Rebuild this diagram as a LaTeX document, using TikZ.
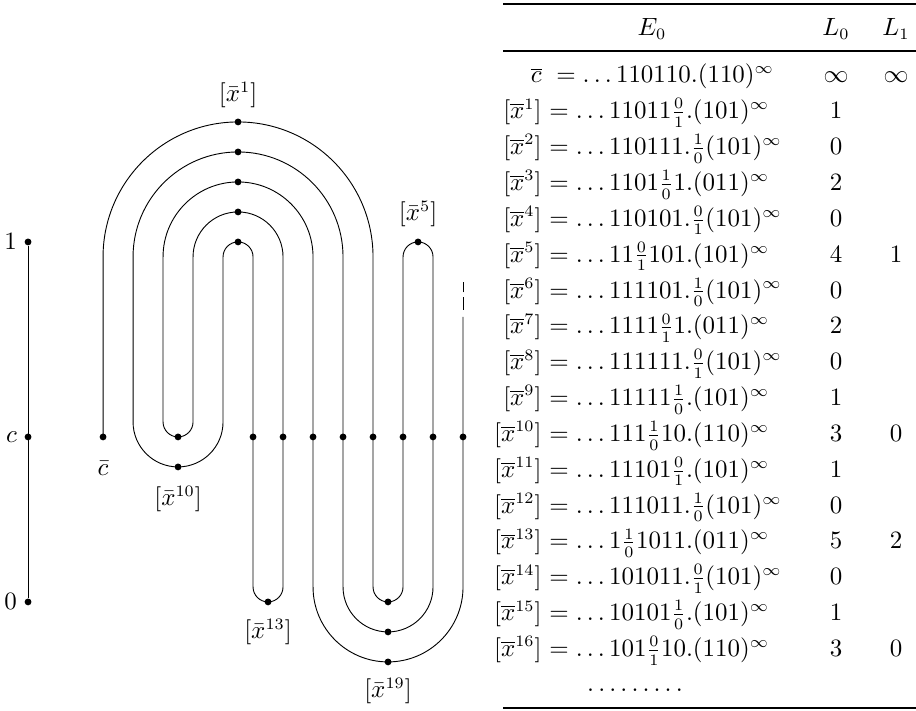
\documentclass[tikz,border=0pt]{standalone}
\usetikzlibrary{positioning}
\begin{document}
\begin{tikzpicture}
      [%%%%%%%%%%%%%%%%%%%%%%%%%%%%%%
          dot/.style={circle,fill=black,inner sep=0pt,minimum size=3pt},
          lab/.style={inner sep=0pt},
          every node/.style={font=\fontsize{10.7}{13}\selectfont},
          x=6.58pt,y=6.58pt
      ]%%%%%%%%%%%%%%%%%%%%%%%%%%%%%%

  \useasboundingbox (-1.87,-18.27) rectangle (59.2,29.13);

  % the interval [0,1]
  \node[dot] (one) at (0,13){};
  \node[dot] (cc) at (0,0){};
  \node[dot] (zero) at (0,-11){};
  \draw (one) -- (zero);
  \node[lab,left=3pt of one] (lone) {$1$};
  \node[lab,left=3pt of cc] (lc) {$c$};
  \node[lab,left=3pt of zero] (lzero) {$0$};

  % the folded curve
  \draw (5,0) -- (5,12) arc (180:0:9) -- (23,-10) arc (180:360:1)
        -- (25,12) arc (180:0:1) -- (27,-10) arc (0:-180:3)
        -- (21,12) arc (0:180:7) -- (7,1) arc (180:360:3)
        -- (13,12) arc (180:0:1) -- (15,-10) arc (180:360:1)
        -- (17,12) arc (0:180:3) -- (11,1) arc (0:-180:1)
        -- (9,12) arc (180:0:5) -- (19,-10) arc (180:360:5)
        -- (29,8);
  \draw[dash pattern=on 5.5pt off 2.2pt on 4.4pt off 9pt] (29,8.47) -- (29,10.33);

  \node[dot] (cbar) at (5,0){};
  \foreach \r in {1,3,...,9}
      \node[dot] (top\r) at (14,12+\r){};
  \node[dot] (topfive) at (26,13){};
  \node[dot] (bin) at (10,0){};
  \node[dot] (bout) at (10,-2){};
  \foreach \x in {15,17,...,29}
      \node[dot] (c\x) at (\x,0){};
  \node[dot] (bthirteen) at (16,-11){};
  \foreach \r in {1,3,5}
      \node[dot] (bot\r) at (24,-10-\r){};

  \node[lab] (xone) at (14,22.8) {$[\bar x^{1}]$};
  \node[lab] (xfive) at (26,14.87) {$[\bar x^{5}]$};
  \node[lab] (lcbar) at (5,-2.1) {$\bar c$};
  \node[lab] (xten) at (10,-4.13) {$[\bar x^{10}]$};
  \node[lab] (xthirteen) at (16,-13) {$[\bar x^{13}]$};
  \node[lab] (xnineteen) at (24,-16.93) {$[\bar x^{19}]$};

  % the table
  \draw[line width=0.9pt] (31.67,28.87) -- (59.2,28.87);
  \draw[line width=0.6pt] (31.67,25.73) -- (59.2,25.73);
  \draw[line width=0.9pt] (31.67,-18.07) -- (59.2,-18.07);

  \node[lab,anchor=base] (hE) at (41.6,26.73) {$E_0$};
  \node[lab,anchor=base] (hLzero) at (53.87,26.73) {$L_0$};
  \node[lab,anchor=base] (hLone) at (57.87,26.73) {$L_1$};

  \foreach \lhs/\rhs/\lz/\lo [count=\i from 0] in {
      {\overline{c}}/{\;=\ldots110110.(110)^\infty}/{\infty}/{\infty},
      {[\overline{x}^{1}]}/{=\ldots11011\frac{0}{1}.(101)^\infty}/{1}/{},
      {[\overline{x}^{2}]}/{=\ldots110111.\frac{1}{0}(101)^\infty}/{0}/{},
      {[\overline{x}^{3}]}/{=\ldots1101\frac{1}{0}1.(011)^\infty}/{2}/{},
      {[\overline{x}^{4}]}/{=\ldots110101.\frac{0}{1}(101)^\infty}/{0}/{},
      {[\overline{x}^{5}]}/{=\ldots11\frac{0}{1}101.(101)^\infty}/{4}/{1},
      {[\overline{x}^{6}]}/{=\ldots111101.\frac{1}{0}(101)^\infty}/{0}/{},
      {[\overline{x}^{7}]}/{=\ldots1111\frac{0}{1}1.(011)^\infty}/{2}/{},
      {[\overline{x}^{8}]}/{=\ldots111111.\frac{0}{1}(101)^\infty}/{0}/{},
      {[\overline{x}^{9}]}/{=\ldots11111\frac{1}{0}.(101)^\infty}/{1}/{},
      {[\overline{x}^{10}]}/{=\ldots111\frac{1}{0}10.(110)^\infty}/{3}/{0},
      {[\overline{x}^{11}]}/{=\ldots11101\frac{0}{1}.(101)^\infty}/{1}/{},
      {[\overline{x}^{12}]}/{=\ldots111011.\frac{1}{0}(101)^\infty}/{0}/{},
      {[\overline{x}^{13}]}/{=\ldots1\frac{1}{0}1011.(011)^\infty}/{5}/{2},
      {[\overline{x}^{14}]}/{=\ldots101011.\frac{0}{1}(101)^\infty}/{0}/{},
      {[\overline{x}^{15}]}/{=\ldots10101\frac{1}{0}.(101)^\infty}/{1}/{},
      {[\overline{x}^{16}]}/{=\ldots101\frac{0}{1}10.(110)^\infty}/{3}/{0}}{
    \node[lab,anchor=base east] (lhs\i) at (34.27,23.6-2.39*\i) {$\lhs$};
    \node[lab,anchor=base west] (rhs\i) at (34.27,23.6-2.39*\i) {${}\rhs$};
    \node[lab,anchor=base] (lz\i) at (53.87,23.6-2.39*\i) {$\lz$};
    \node[lab,anchor=base] (lo\i) at (57.87,23.6-2.39*\i) {$\lo$};
  }
  \node[lab,anchor=base] (more) at (40.47,-17) {$\ldots\ldots\ldots$};

\end{tikzpicture}
\end{document}
